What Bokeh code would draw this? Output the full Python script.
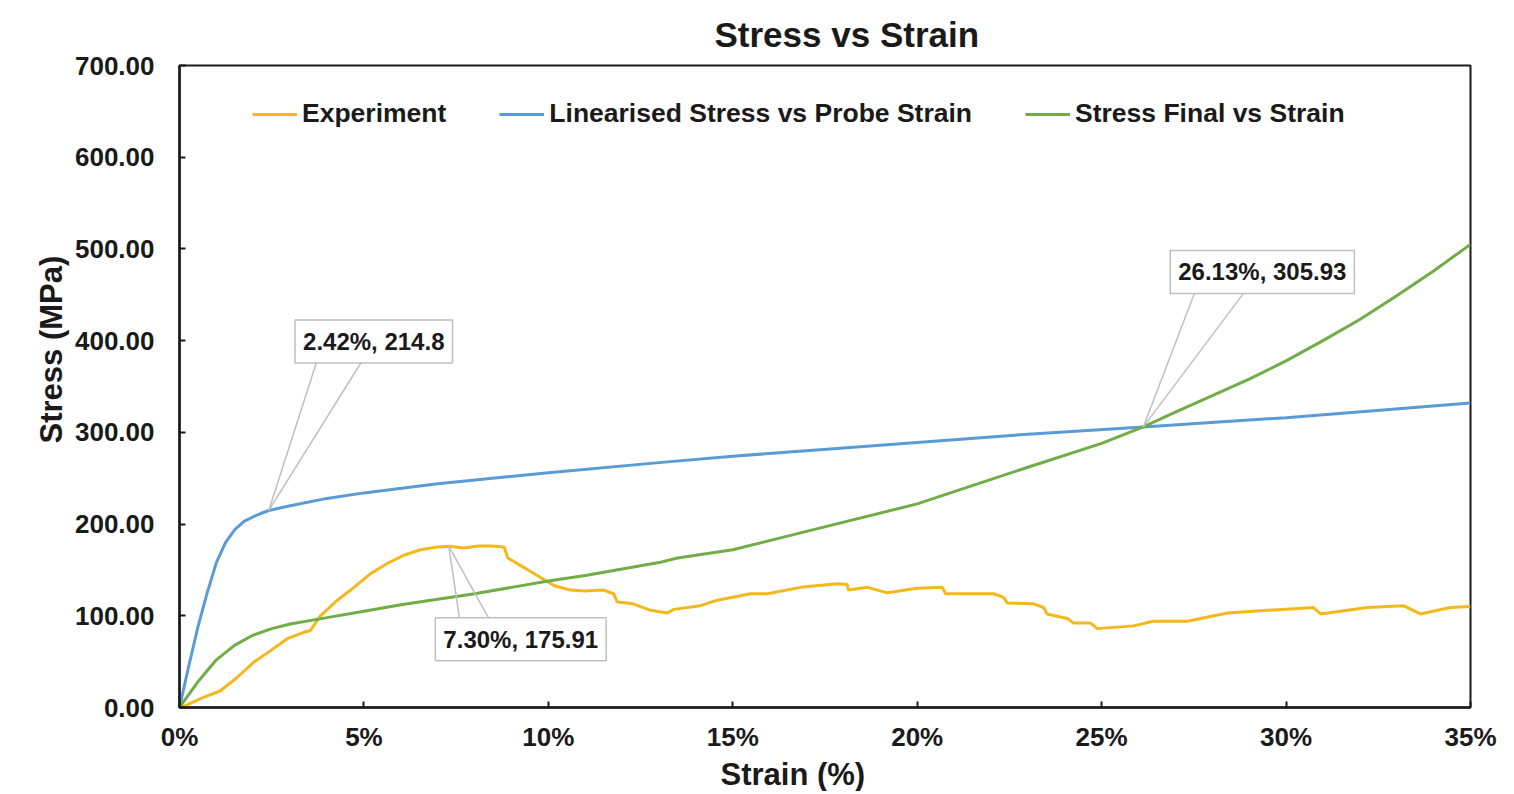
from bokeh.plotting import figure
from bokeh.models import Range1d, PrintfTickFormatter, FixedTicker, Legend, LegendItem, Label, Title
from bokeh.embed import file_html
from bokeh.resources import INLINE

# ---------------- data ----------------
exp_strain = [0, 0.1, 0.65, 1.1, 1.57, 2.0, 2.47, 2.92, 3.37, 3.55, 3.82, 4.28, 4.73, 5.18, 5.63,
              6.08, 6.53, 7.0, 7.3, 7.7, 8.1, 8.43, 8.8, 8.9, 9.24, 9.7, 10.15, 10.6, 11.0, 11.5,
              11.77, 11.87, 12.3, 12.77, 13.23, 13.4, 14.12, 14.58, 15.48, 15.94, 16.84, 17.84,
              18.1, 18.14, 18.65, 19.19, 20.0, 20.68, 20.77, 21.36, 22.07, 22.34, 22.44, 23.15,
              23.43, 23.52, 24.07, 24.24, 24.7, 24.88, 25.86, 26.4, 27.32, 28.41, 29.5, 30.74,
              30.94, 32.2, 33.18, 33.64, 34.45, 35]
exp_stress = [0, 1, 11, 18, 33, 49, 62, 75, 82, 84, 100, 117, 131, 146, 157,
              166, 172, 175, 175.91, 174, 176, 176, 175, 163, 155, 144, 133, 128, 127, 128,
              124, 115, 113, 106, 103, 107, 111, 117, 124, 124, 131, 135,
              134, 128, 131, 125, 130, 131, 124, 124, 124, 120, 114, 113,
              109, 102, 97, 92, 92, 86, 89, 94, 94, 103, 106, 109,
              102, 109, 111, 102, 109, 110]

lin_strain = [0, 0.25, 0.5, 0.75, 1.0, 1.25, 1.5, 1.75, 2.0, 2.2, 2.42, 3, 4, 5, 7, 10, 13, 15,
              18, 20, 23, 26.13, 30, 35]
lin_stress = [0, 45, 88, 125, 158, 180, 194, 203, 208, 211.5, 214.8, 220, 228, 234, 244, 256, 267,
              274, 283, 289, 298, 305.93, 316, 332]

fin_strain = [0, 0.25, 0.5, 1, 1.5, 2, 2.5, 3, 4, 5, 6, 7, 8, 9, 10, 11, 12, 13, 13.5, 15, 17,
              20, 23, 25, 26.13, 27, 28, 29, 30, 31, 32, 33, 34, 35]
fin_stress = [0, 14, 28, 52, 68, 79, 86, 91, 98, 105, 112, 118, 124, 131, 138, 144, 151, 158,
              163, 172, 192, 222, 262, 288, 305.93, 322, 340, 358, 378, 400, 423, 449, 476, 505]

series_names = ["Experiment", "Linearised Stress vs Probe Strain", "Stress Final vs Strain"]
series_colors = ["#F4B81C", "#5B9BD5", "#70AD47"]

x_ticks = [0, 5, 10, 15, 20, 25, 30, 35]
y_ticks = [0, 100, 200, 300, 400, 500, 600, 700]

# annotated points (strain %, stress)
ann_x = [2.42, 7.30, 26.13]
ann_y = [214.8, 175.91, 305.93]
ann_text = ["2.42%, 214.8", "7.30%, 175.91", "26.13%, 305.93"]

# ---------------- layout constants ----------------
FW, FH = 1291, 642
XMAX, YMAX = 35, 700
FONT = "Liberation Sans"

p = figure(frame_width=FW, frame_height=FH, x_range=Range1d(0, XMAX), y_range=Range1d(0, YMAX),
           output_backend="svg", toolbar_location=None, background_fill_color="white",
           border_fill_color="white", min_border_left=179, min_border_right=28,
           min_border_top=65, min_border_bottom=79)

p.title.text = "Stress vs Strain"
p.title.text_font = FONT
p.title.text_font_size = "35px"
p.title.text_font_style = "bold"
p.title.text_color = "#1a1a1a"
p.title.align = "left"
p.title.offset = 535
p.title.standoff = 24

p.xgrid.visible = False
p.ygrid.visible = False
p.outline_line_color = "#1a1a1a"
p.outline_line_width = 2
p.outline_line_alpha = 1

for ax in (p.xaxis[0], p.yaxis[0]):
    ax.axis_line_color = "#1a1a1a"
    ax.axis_line_width = 2.5
    ax.major_tick_line_color = "#1a1a1a"
    ax.major_tick_line_width = 2
    ax.major_tick_in = 6
    ax.major_tick_out = 0
    ax.minor_tick_line_color = None
    ax.major_label_text_font = FONT
    ax.major_label_text_font_size = "26px"
    ax.major_label_text_font_style = "bold"
    ax.major_label_text_color = "#1a1a1a"

p.xaxis[0].ticker = FixedTicker(ticks=x_ticks)
p.xaxis[0].formatter = PrintfTickFormatter(format="%d%%")
p.xaxis[0].major_label_standoff = 14
p.yaxis[0].ticker = FixedTicker(ticks=y_ticks)
p.yaxis[0].formatter = PrintfTickFormatter(format="%.2f")
p.yaxis[0].major_label_standoff = 25

xlab = Title(text="Strain (%)", align="left", offset=541, text_font=FONT, text_font_size="31px",
             text_font_style="bold", text_color="#1a1a1a", standoff=0)
p.add_layout(xlab, "below")
ylab = Title(text="Stress (MPa)", align="left", offset=264, text_font=FONT, text_font_size="31px",
             text_font_style="bold", text_color="#1a1a1a", standoff=6)
p.add_layout(ylab, "left")

# ---------------- series ----------------
r_exp = p.line(exp_strain, exp_stress, line_color=series_colors[0], line_width=3)
r_lin = p.line(lin_strain, lin_stress, line_color=series_colors[1], line_width=3)
r_fin = p.line(fin_strain, fin_stress, line_color=series_colors[2], line_width=3)

legend = Legend(items=[LegendItem(label=series_names[0], renderers=[r_exp]),
                       LegendItem(label=series_names[1], renderers=[r_lin]),
                       LegendItem(label=series_names[2], renderers=[r_fin])],
                orientation="horizontal", location=(73, 578), padding=0, margin=0,
                spacing=53, glyph_width=45, glyph_height=28, label_standoff=5,
                label_text_font=FONT, label_text_font_size="26.5px", label_text_font_style="bold",
                label_text_color="#1a1a1a", border_line_color=None, background_fill_alpha=0)
p.add_layout(legend, "center")

# ---------------- callouts ----------------
px_x = FW / XMAX
px_y = FH / YMAX
box_off = [(105, 169), (72, -93), (119, 155)]
leg_off = [((48, 149), (93, 149)), ((11, -74), (41, -74)), ((52, 136), (102, 136))]
for i in range(3):
    for (dx, dy) in leg_off[i]:
        p.segment(x0=[ann_x[i]], y0=[ann_y[i]], x1=[ann_x[i] + dx / px_x], y1=[ann_y[i] + dy / px_y],
                  line_color="#BFBFBF", line_width=1.5)
for i in range(3):
    lab = Label(x=ann_x[i], y=ann_y[i], x_offset=box_off[i][0], y_offset=box_off[i][1],
                text=ann_text[i], text_font=FONT, text_font_size="24px", text_font_style="bold",
                text_color="#1a1a1a", text_align="center", text_baseline="middle",
                background_fill_color="white", border_line_color="#BFBFBF", border_line_width=1.5,
                padding=8)
    p.add_layout(lab)

open("out.html", "w").write(file_html(p, INLINE))
